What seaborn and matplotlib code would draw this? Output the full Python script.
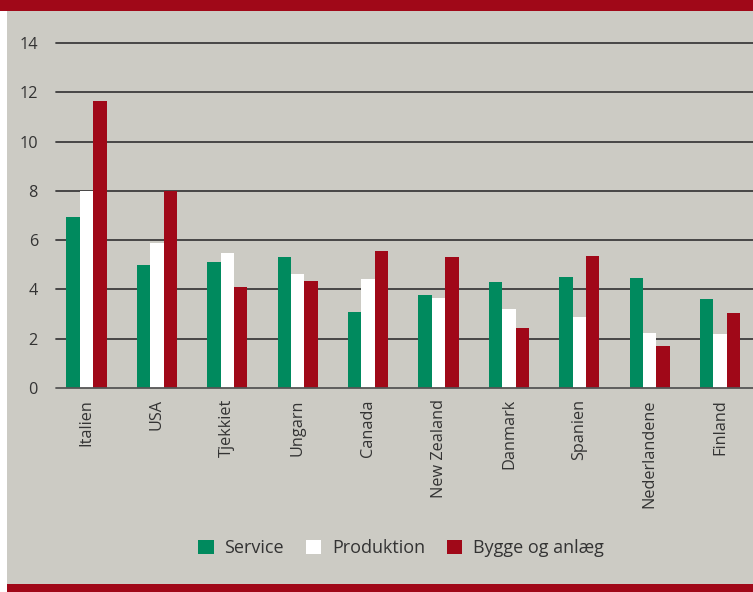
import matplotlib
matplotlib.use("Agg")
import matplotlib.pyplot as plt
import seaborn as sns
import pandas as pd
from matplotlib.patches import Rectangle

countries = ["Italien", "USA", "Tjekkiet", "Ungarn", "Canada", "New Zealand",
             "Danmark", "Spanien", "Nederlandene", "Finland"]
service = [6.94, 4.99, 5.11, 5.32, 3.08, 3.77, 4.30, 4.50, 4.46, 3.61]
produktion = [8.0, 5.88, 5.48, 4.63, 4.42, 3.65, 3.20, 2.88, 2.23, 2.19]
bygge = [11.65, 8.0, 4.10, 4.34, 5.56, 5.32, 2.43, 5.36, 1.70, 3.04]
series_names = ["Service", "Produktion", "Bygge og anlæg"]
colors = ["#008A5E", "#FFFFFF", "#A00818"]
yticks = [0, 2, 4, 6, 8, 10, 12, 14]

rows = []
for name, vals in zip(series_names, [service, produktion, bygge]):
    for c, v in zip(countries, vals):
        rows.append({"land": c, "serie": name, "værdi": v})
df = pd.DataFrame(rows)

sns.set_theme(style="white")
plt.rcParams["font.family"] = ["Open Sans", "DejaVu Sans"]

W, H = 753, 592
fig = plt.figure(figsize=(W / 100, H / 100), dpi=100, facecolor="white")
BG = "#CCCBC4"
RED = "#A00818"
fig.patches.append(Rectangle((7 / W, 8 / H), 1 - 7 / W, (H - 8 - 11) / H,
                             transform=fig.transFigure, facecolor=BG, edgecolor="none", zorder=-10))
fig.patches.append(Rectangle((0, (H - 11) / H), 1, 11 / H,
                             transform=fig.transFigure, facecolor=RED, edgecolor="none", zorder=-10))
fig.patches.append(Rectangle((7 / W, 0), 1 - 7 / W, 8 / H,
                             transform=fig.transFigure, facecolor=RED, edgecolor="none", zorder=-10))

ax = fig.add_axes([56 / W, (H - 388) / H, 1 - 56 / W, (388 - 43) / H])
ax.set_facecolor("none")

sns.barplot(data=df, x="land", y="værdi", hue="serie", order=countries,
            hue_order=series_names, palette=colors, width=0.57, saturation=1,
            edgecolor="none", linewidth=0, ax=ax, legend=False, errorbar=None)

ax.set_ylim(0, 14)
ax.set_xlim(-0.433, 9.467)
ax.set_yticks(yticks)
ax.set_yticklabels([str(t) for t in yticks])
for t in yticks[1:]:
    ax.axhline(t, color="#3C3C3C", lw=1.3, zorder=0.5, clip_on=False)
ax.axhline(0, color="#555555", lw=1.3, zorder=3, clip_on=False)
for s in ax.spines.values():
    s.set_visible(False)
ax.tick_params(axis="both", length=0, colors="#333333", labelsize=11.7)
ax.tick_params(axis="y", pad=13)
ax.tick_params(axis="x", pad=8)
plt.setp(ax.get_xticklabels(), rotation=90, va="top", ha="center")
ax.set_xlabel("")
ax.set_ylabel("")

handles = [Rectangle((0, 0), 1, 1, facecolor=c, edgecolor="none") for c in colors]
fig.legend(handles, series_names, loc="center", bbox_to_anchor=(401 / W, (H - 548) / H),
           ncol=3, frameon=False, fontsize=13, handlelength=0.85, handleheight=0.85,
           handletextpad=0.6, columnspacing=1.2, labelcolor="#333333")

fig.savefig("out.png", dpi=100, facecolor="white")
